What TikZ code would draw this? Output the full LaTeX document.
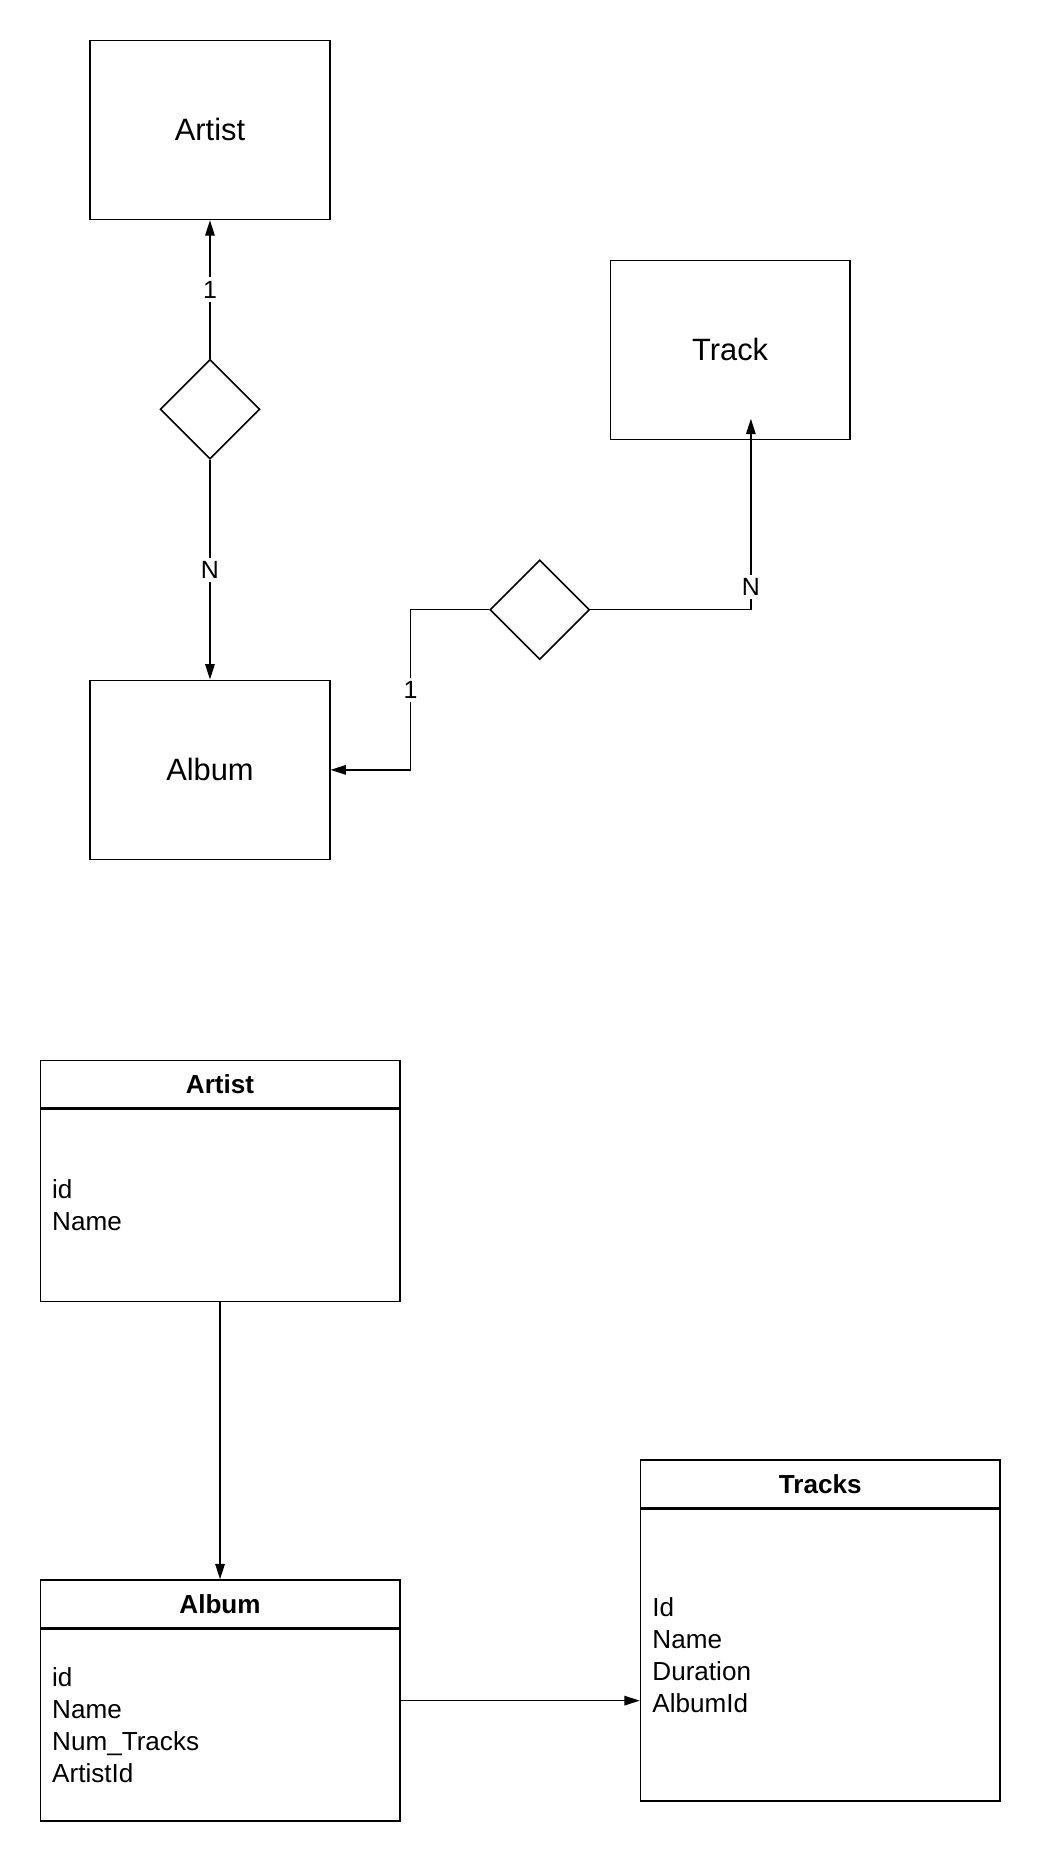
\documentclass[tikz,border=0pt]{standalone}
\usepackage{fontspec}
\setmainfont{Liberation Sans}
\usetikzlibrary{shapes.geometric, positioning, arrows.meta, calc}

\begin{document}
\begin{tikzpicture}[x=1pt, y=-1pt, line width=1.3pt,
    entity/.style={rectangle, draw, minimum width=202pt, minimum height=151pt, font=\fontsize{26}{31}\selectfont},
    relation/.style={diamond, draw, minimum width=84pt, minimum height=84pt, inner sep=0pt},
    card/.style={fill=white, inner sep=3pt, font=\fontsize{21}{25}\selectfont},
    conn/.style={-{Triangle[length=13pt, width=8pt]}},
    tablehead/.style={rectangle, draw, minimum width=303pt, minimum height=40pt, font=\fontsize{22}{26}\selectfont\bfseries},
    tablebody/.style={rectangle, draw, text width=283pt, inner xsep=10pt, align=left, font=\fontsize{22}{27}\selectfont}]
            \useasboundingbox (0,0) rectangle (877,1568);

            % Nodes
            \node[entity] (artist) at (177,109.5) {Artist};
            \node[entity] (track) at (615.5,295) {Track};
            \node[entity] (album) at (177,649) {Album};
            \node[relation] (d1) at (177,345) {};
            \node[relation] (d2) at (455,514) {};
            \coordinate (k1) at (346,649);
            \coordinate (k2) at (633,353);

            % Arrows
            \draw[conn] (d1) -- node[card]{1} (artist);
            \draw[conn] (d1) -- node[card]{N} (album);
            \draw[conn] (d2.west) -| node[card, pos=0.75]{1} (k1) -- (album.east);
            \draw[conn] (d2.east) -| node[card, pos=0.56]{N} (k2);

            % Tables
            \node[tablehead] (artistH) at (185.5,914) {Artist};
            \node[tablebody, minimum height=162pt, below=0pt of artistH] (artistB) {id\\Name};
            \node[tablehead] (albumH) at (185.5,1352) {Album};
            \node[tablebody, minimum height=162pt, below=0pt of albumH] (albumB) {id\\Name\\Num\_Tracks\\ArtistId};
            \node[tablehead] (tracksH) at (691.5,1251) {Tracks};
            \node[tablebody, minimum height=246pt, below=0pt of tracksH] (tracksB) {Id\\Name\\Duration\\AlbumId};
            \coordinate (albumR) at ($(albumH.north east)!0.5!(albumB.south east)$);

            \draw[conn] (artistB) -- (albumH);
            \draw[conn] (albumR) -- (albumR -| tracksB.west);
            \end{tikzpicture}
\end{document}
